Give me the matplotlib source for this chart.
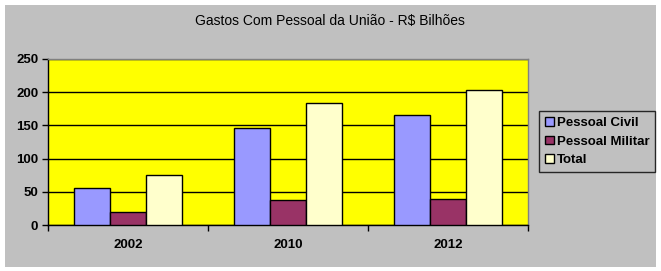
import matplotlib
matplotlib.use("Agg")
import matplotlib.pyplot as plt
import numpy as np
from matplotlib.patches import Rectangle

categories = ["2002", "2010", "2012"]
series_names = ["Pessoal Civil", "Pessoal Militar", "Total"]
civil = [55, 146, 165]
militar = [19, 37, 39]
total = [75, 183, 204]
colors = ["#9999FF", "#993366", "#FFFFCC"]
yticks = [0, 50, 100, 150, 200, 250]

plt.rcParams['font.family'] = ['Liberation Sans', 'DejaVu Sans']

fig = plt.figure(figsize=(6.61, 2.71), dpi=100)
fig.patch.set_facecolor("white")
fig.patches.append(Rectangle((5/661, 4/271), 651/661, 262/271, transform=fig.transFigure,
                             facecolor="#C0C0C0", edgecolor="none", zorder=-10))

ax = fig.add_axes([48/661, 46/271, 480/661, 166/271])
ax.set_facecolor("#FFFF00")

x = np.arange(len(categories))
w = 0.225
for i, (vals, c, name) in enumerate(zip([civil, militar, total], colors, series_names)):
    ax.bar(x + (i - 1) * w, vals, width=w, color=c, edgecolor="black", linewidth=1.0,
           label=name, zorder=3)

ax.set_xlim(-0.5, 2.5)
ax.set_ylim(0, 250)
ax.set_yticks(yticks)
ax.set_yticklabels([str(t) for t in yticks], fontsize=9.5, fontweight="bold")
ax.yaxis.grid(True, color="black", linewidth=1.0, zorder=1)
ax.set_axisbelow(True)

ax.set_xticks(x)
ax.set_xticklabels(categories, fontsize=9.5, fontweight="bold")
ax.tick_params(axis="x", which="major", length=0, pad=10)
ax.set_xticks([-0.5, 0.5, 1.5, 2.5], minor=True)
ax.tick_params(axis="x", which="minor", length=4, width=1, direction="out")
ax.tick_params(axis="y", length=4, width=1, direction="out", pad=3)

ax.spines["left"].set_color("black")
ax.spines["bottom"].set_color("black")
ax.spines["top"].set_color("#808080")
ax.spines["right"].set_color("#808080")
for s in ax.spines.values():
    s.set_linewidth(1.0)

fig.text(330/661, 1 - 21/271, "Gastos Com Pessoal da União - R$ Bilhões",
         ha="center", va="center", fontsize=10)

leg = ax.legend(loc="upper left", bbox_to_anchor=(539/661, 1 - 111/271),
                bbox_transform=fig.transFigure, frameon=True, fancybox=False,
                prop={"size": 9.5, "weight": "bold"}, handlelength=0.65, handleheight=0.65,
                handletextpad=0.25, borderpad=0.45, labelspacing=0.5, borderaxespad=0)
leg.get_frame().set_facecolor("#C0C0C0")
leg.get_frame().set_edgecolor("black")
leg.get_frame().set_linewidth(1.0)

fig.savefig("out.png", dpi=100)
